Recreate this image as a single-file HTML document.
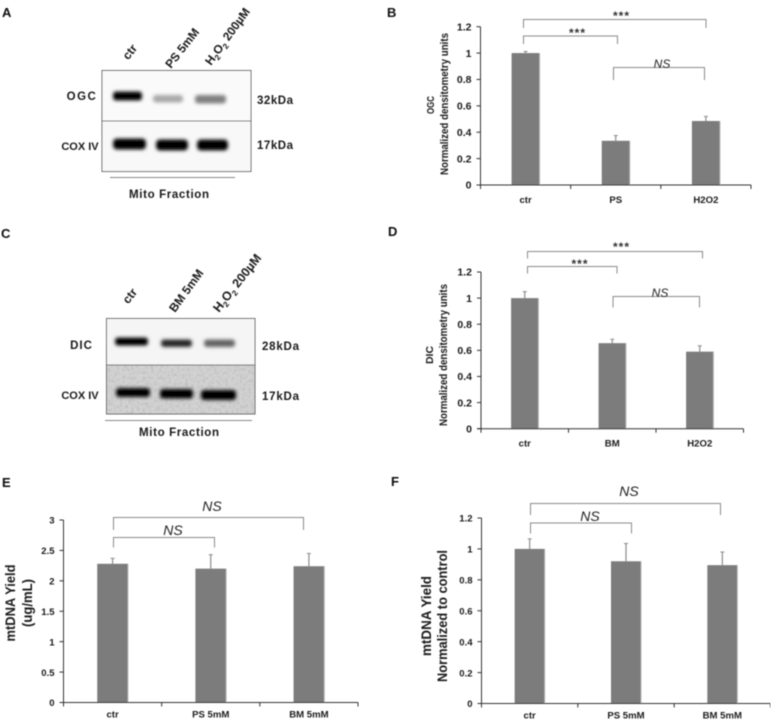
<!DOCTYPE html>
<html lang="en">
<head>
<meta charset="utf-8">
<title>Mitochondrial western blots and densitometry</title>
<style>
html,body{margin:0;padding:0;background:#fff;width:771px;height:721px;overflow:hidden}
svg{display:block;position:absolute;left:0;top:0}
text{font-family:"Liberation Sans",sans-serif;font-weight:bold;fill:#1a1a1a}
.lbl{font-size:10.5px}
.ns{font-family:"Liberation Sans",sans-serif;font-weight:normal;font-style:italic;fill:#222}
.star{font-size:12px;fill:#333;letter-spacing:1px}
.panel{font-size:13px;fill:#111}
.bk{fill:none;stroke:#8a8a8a;stroke-width:1}
.frame{fill:none;stroke:#666;stroke-width:1}
.rule{stroke:#888;stroke-width:1}
</style>
</head>
<body>
<svg id="figure" xmlns="http://www.w3.org/2000/svg" width="771" height="721" viewBox="0 0 771 721">
<defs>
<filter id="soft" x="-30%" y="-150%" width="160%" height="400%"><feGaussianBlur stdDeviation="1.9"/></filter>
<filter id="grain" x="0" y="0" width="100%" height="100%">
<feTurbulence type="fractalNoise" baseFrequency="0.35" numOctaves="2" seed="4"/>
<feColorMatrix type="matrix" values="0 0 0 0 .4  0 0 0 0 .4  0 0 0 0 .4  3 0 0 0 -1.3"/>
</filter>
<filter id="tiny" x="0" y="0" width="100%" height="100%"><feGaussianBlur stdDeviation="0.4"/></filter>
</defs>
<rect width="771" height="721" fill="#fff"/>

<g id="root" filter="url(#tiny)">
<!-- Panel A -->
<g>
<text class="panel" x="2" y="17">A</text>
<text x="129" y="64" font-size="12" transform="rotate(-52 125 63)">ctr</text>
<text x="171" y="69" font-size="12" transform="rotate(-52 171 69)">PS 5mM</text>
<text x="211" y="66" font-size="12" transform="rotate(-54 211 66)">H<tspan dy="3" font-size="8">2</tspan><tspan dy="-3">O</tspan><tspan dy="3" font-size="8">2</tspan><tspan dy="-3"> 200µM</tspan></text>
<rect x="102" y="70.5" width="149" height="50.5" fill="#fafafa"/>
<rect x="102" y="121" width="149" height="50.5" fill="#f8f8f8"/>
<rect x="113" y="91.5" width="29" height="9" rx="3" fill="#000" filter="url(#soft)"/>
<rect x="153" y="95" width="30" height="7.5" rx="3" fill="#a8a8a8" filter="url(#soft)"/>
<rect x="195" y="95" width="31" height="8.5" rx="3" fill="#808080" filter="url(#soft)"/>
<rect x="113" y="138.5" width="33" height="11" rx="4" fill="#000" filter="url(#soft)"/>
<rect x="156" y="139.5" width="32" height="11" rx="4" fill="#000" filter="url(#soft)"/>
<rect x="197" y="139.5" width="31" height="11" rx="4" fill="#000" filter="url(#soft)"/>
<rect class="frame" x="102" y="70.5" width="149" height="101"/>
<line x1="102" y1="121" x2="251" y2="121" stroke="#666"/>
<text x="82" y="100" font-size="11.5" text-anchor="middle" letter-spacing="1.5">OGC</text>
<text x="80" y="150" font-size="11" text-anchor="middle">COX IV</text>
<text x="257" y="104" font-size="11.5" textLength="36">32kDa</text>
<text x="257" y="149" font-size="11.5" textLength="36">17kDa</text>
<line class="rule" x1="110" y1="177.5" x2="235" y2="177.5"/>
<text x="129" y="198" font-size="11.5" textLength="80">Mito Fraction</text>
</g>

<!-- Panel C -->
<g>
<text class="panel" x="1" y="238">C</text>
<text x="129" y="308" font-size="12" transform="rotate(-52 125 307)">ctr</text>
<text x="175" y="313" font-size="12" transform="rotate(-54 175 313)">BM 5mM</text>
<text x="219" y="313" font-size="12.5" transform="rotate(-52 219 313)">H<tspan dy="3" font-size="8">2</tspan><tspan dy="-3">O</tspan><tspan dy="3" font-size="8">2</tspan><tspan dy="-3"> 200µM</tspan></text>
<rect x="106.5" y="318.5" width="148.5" height="46.5" fill="#f5f5f5"/>
<rect x="106.5" y="365" width="148.5" height="49" fill="#d2d2d2"/>
<rect x="106.5" y="365" width="148.5" height="49" filter="url(#grain)" opacity=".4"/>
<rect x="115" y="337.5" width="33" height="8" rx="3" fill="#000" filter="url(#soft)"/>
<rect x="161" y="339.5" width="31" height="7.5" rx="3" fill="#262626" filter="url(#soft)"/>
<rect x="204" y="339.5" width="31" height="7.5" rx="3" fill="#646464" filter="url(#soft)"/>
<rect x="116" y="388" width="34" height="9" rx="3" fill="#000" filter="url(#soft)"/>
<rect x="160" y="389" width="33" height="9.5" rx="3" fill="#000" filter="url(#soft)"/>
<rect x="201" y="390" width="35" height="10" rx="3" fill="#000" filter="url(#soft)"/>
<rect class="frame" x="106.5" y="318.5" width="148.5" height="95.5"/>
<line x1="106.5" y1="365" x2="255" y2="365" stroke="#666"/>
<text x="81.5" y="349" font-size="11.5" text-anchor="middle" letter-spacing="1">DIC</text>
<text x="80" y="399" font-size="11" text-anchor="middle">COX IV</text>
<text x="262" y="350" font-size="11.5" textLength="37">28kDa</text>
<text x="262" y="400" font-size="11.5" textLength="37">17kDa</text>
<line class="rule" x1="105" y1="420.5" x2="252" y2="420.5"/>
<text x="139" y="436" font-size="11.5" textLength="80">Mito Fraction</text>
</g>

<!-- Panel letters and axis titles -->
<text class="panel" x="387" y="17">B</text>
<text class="panel" x="388" y="236">D</text>
<text class="panel" x="2" y="487">E</text>
<text class="panel" x="391" y="486">F</text>

<text x="-9" y="0" font-size="10" textLength="18" lengthAdjust="spacingAndGlyphs" transform="translate(434 105) rotate(-90)">OGC</text>
<text x="-71" y="0" font-size="11" textLength="142" lengthAdjust="spacingAndGlyphs" transform="translate(448 104) rotate(-90)">Normalized densitometry units</text>
<text x="-9" y="0" font-size="10" textLength="18" lengthAdjust="spacingAndGlyphs" transform="translate(433 355) rotate(-90)">DIC</text>
<text x="-71" y="0" font-size="11" textLength="142" lengthAdjust="spacingAndGlyphs" transform="translate(447 355) rotate(-90)">Normalized densitometry units</text>
<text x="-38.5" y="0" font-size="14" textLength="77" lengthAdjust="spacingAndGlyphs" transform="translate(15 603) rotate(-90)">mtDNA Yield</text>
<text x="-24" y="0" font-size="14" textLength="48" lengthAdjust="spacingAndGlyphs" transform="translate(32 603) rotate(-90)">(ug/mL)</text>
<text x="-40" y="0" font-size="14" textLength="80" lengthAdjust="spacingAndGlyphs" transform="translate(431 616) rotate(-90)">mtDNA  Yield</text>
<text x="-66" y="0" font-size="14" textLength="132" lengthAdjust="spacingAndGlyphs" transform="translate(447 616) rotate(-90)">Normalized to control</text>

<!-- Significance brackets -->
<g>
<path class="bk" d="M523.5 28V19.5H706V28"/>
<path class="bk" d="M523.5 44V36H617.5V44"/>
<path class="bk" d="M613.5 80V67.5H704.5V80"/>
<text class="star" x="621.5" y="20" text-anchor="middle">***</text>
<text class="star" x="577.5" y="37" text-anchor="middle">***</text>
<text class="ns" x="662" y="68" font-size="12" text-anchor="middle">NS</text>
</g>
<g>
<path class="bk" d="M527.5 258.5V251.5H702.5V258.5"/>
<path class="bk" d="M527.5 273.5V266.5H617V273.5"/>
<path class="bk" d="M613 307.5V296.5H699.5V307.5"/>
<text class="star" x="621.5" y="251" text-anchor="middle">***</text>
<text class="star" x="580" y="268" text-anchor="middle">***</text>
<text class="ns" x="660" y="297" font-size="12" text-anchor="middle">NS</text>
</g>
<g>
<path class="bk" d="M113.5 530V517.5H303.5V530"/>
<path class="bk" d="M113.5 547.5V537.5H214.5V547.5"/>
<text class="ns" x="212" y="511" font-size="14" text-anchor="middle">NS</text>
<text class="ns" x="173" y="535" font-size="14" text-anchor="middle">NS</text>
</g>
<g>
<path class="bk" d="M530.5 515V503.5H720.5V515"/>
<path class="bk" d="M530.5 533.5V523H631.5V533.5"/>
<text class="ns" x="629" y="496" font-size="14" text-anchor="middle">NS</text>
<text class="ns" x="590" y="521" font-size="14" text-anchor="middle">NS</text>
</g>

<g id="charts"></g>
</g>
</svg>

<script>
const categoriesB = ["ctr", "PS", "H2O2"];
const valuesB = [1, 0.335, 0.485];
const errorTopsB = [1.012, 0.375, 0.52];
const ticksB = [0, 0.2, 0.4, 0.6, 0.8, 1, 1.2];

const categoriesD = ["ctr", "BM", "H2O2"];
const valuesD = [1, 0.655, 0.59];
const errorTopsD = [1.05, 0.685, 0.635];
const ticksD = [0, 0.2, 0.4, 0.6, 0.8, 1, 1.2];

const categoriesE = ["ctr", "PS 5mM", "BM 5mM"];
const valuesE = [2.28, 2.2, 2.24];
const errorTopsE = [2.37, 2.43, 2.45];
const ticksE = [0, 0.5, 1, 1.5, 2, 2.5, 3];

const categoriesF = ["ctr", "PS 5mM", "BM 5mM"];
const valuesF = [1, 0.92, 0.895];
const errorTopsF = [1.065, 1.035, 0.98];
const ticksF = [0, 0.2, 0.4, 0.6, 0.8, 1, 1.2];

const NS = "http://www.w3.org/2000/svg";

function make(tag, parent, attrs) {
  const node = document.createElementNS(NS, tag);
  for (const key in attrs) node.setAttribute(key, attrs[key]);
  parent.appendChild(node);
  return node;
}

function drawChart(id, categories, values, errorTops, ticks, box) {
  const host = document.getElementById("charts");
  const group = make("g", host, {});
  
  
  group.id = "chart-" + id;

  const maxY = ticks[ticks.length - 1];
  const yScale = v => box.bottom - (v / maxY) * (box.bottom - box.top);
  const bandWidth = (box.right - box.left) / categories.length;
  const xScale = i => box.left + bandWidth * (i + 0.5);

  categories.forEach((cat, i) => {
    const cx = xScale(i);
    const errLine = make("line", group, {
      x1: cx, x2: cx, y1: yScale(errorTops[i]), y2: yScale(values[i]),
      stroke: "#8c8c8c", "stroke-width": 1.2
    });
    
    
    const errCap = make("line", group, {
      x1: cx - 2, x2: cx + 2, y1: yScale(errorTops[i]), y2: yScale(errorTops[i]),
      stroke: "#8c8c8c", "stroke-width": 1
    });
    
    
    const bar = make("rect", group, {
      x: cx - box.barWidth / 2, y: yScale(values[i]),
      width: box.barWidth, height: box.bottom - yScale(values[i]),
      fill: "#7b7b7b"
    });
    
    
    const edge = make("line", group, {
      x1: cx + box.barWidth / 2, x2: cx + box.barWidth / 2,
      y1: yScale(values[i]), y2: box.bottom,
      stroke: "#b4b4b4", "stroke-width": 1
    });
    
    
    const label = make("text", group, {
      x: cx, y: box.bottom + box.labelGap, "text-anchor": "middle", "font-size": 9.6
    });
    
    
    label.textContent = cat;
  });

  const xAxis = make("line", group, {
    x1: box.left - 4, x2: box.right, y1: box.bottom, y2: box.bottom,
    stroke: "#333", "stroke-width": 1
  });
  
  
  const yAxis = make("line", group, {
    x1: box.left, x2: box.left, y1: box.top, y2: box.bottom,
    stroke: "#333", "stroke-width": 1
  });
  
  

  for (let i = 0; i <= categories.length; i++) {
    const tx = box.left + bandWidth * i;
    const xTick = make("line", group, {
      x1: tx, x2: tx, y1: box.bottom, y2: box.bottom + 4,
      stroke: "#333", "stroke-width": 1
    });
    
    
  }

  ticks.forEach(t => {
    const ty = yScale(t);
    const yTick = make("line", group, {
      x1: box.left - 4, x2: box.left, y1: ty, y2: ty,
      stroke: "#333", "stroke-width": 1
    });
    
    
    const tl = make("text", group, {
      x: box.left - 9, y: ty + 3.7, "text-anchor": "end", "font-size": box.tickFont
    });
    
    
    tl.textContent = String(t);
  });
}

drawChart("b", categoriesB, valuesB, errorTopsB, ticksB,
  {left: 480.5, right: 751, top: 26.7, bottom: 185, barWidth: 28, labelGap: 18, tickFont: 10.5});
drawChart("d", categoriesD, valuesD, errorTopsD, ticksD,
  {left: 481, right: 743.5, top: 272, bottom: 428.7, barWidth: 27.3, labelGap: 18, tickFont: 10.5});
drawChart("e", categoriesE, valuesE, errorTopsE, ticksE,
  {left: 63.5, right: 358, top: 520, bottom: 702.5, barWidth: 30.7, labelGap: 15, tickFont: 9.5});
drawChart("f", categoriesF, valuesF, errorTopsF, ticksF,
  {left: 481.5, right: 770.5, top: 518, bottom: 703.5, barWidth: 30, labelGap: 15, tickFont: 9.5});
</script>
</body>
</html>
